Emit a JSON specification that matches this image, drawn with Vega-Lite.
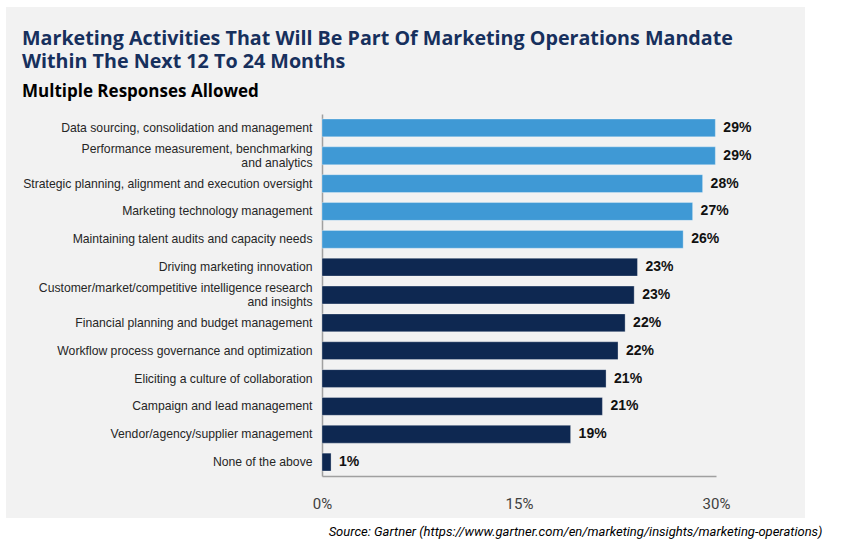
{
  "$schema": "https://vega.github.io/schema/vega-lite/v6.json",
  "width": 799,
  "height": 511,
  "autosize": {"type": "none"},
  "padding": {"left": 6, "top": 7, "right": 51, "bottom": 34},
  "background": "white",
  "view": {"fill": "#F2F2F2", "stroke": null},
  "title": {
    "text": ["Marketing Activities That Will Be Part Of Marketing Operations Mandate", "Within The Next 12 To 24 Months"],
    "subtitle": "Multiple Responses Allowed",
    "anchor": "start",
    "frame": "group",
    "offset": -93,
    "dx": 16,
    "font": "Open Sans",
    "fontSize": 19.7,
    "fontWeight": "bold",
    "color": "#17305D",
    "lineHeight": 23.5,
    "subtitleFont": "Open Sans",
    "subtitleFontSize": 17,
    "subtitleFontWeight": "bold",
    "subtitleColor": "#000000",
    "subtitlePadding": 12
  },
  "data": {
    "values": [
      {"activity": "Data sourcing, consolidation and management", "value": 29.95, "pct": "29%", "group": "top"},
      {"activity": "Performance measurement, benchmarking|and analytics", "value": 29.95, "pct": "29%", "group": "top"},
      {"activity": "Strategic planning, alignment and execution oversight", "value": 28.98, "pct": "28%", "group": "top"},
      {"activity": "Marketing technology management", "value": 28.22, "pct": "27%", "group": "top"},
      {"activity": "Maintaining talent audits and capacity needs", "value": 27.5, "pct": "26%", "group": "top"},
      {"activity": "Driving marketing innovation", "value": 24.02, "pct": "23%", "group": "other"},
      {"activity": "Customer/market/competitive intelligence research|and insights", "value": 23.77, "pct": "23%", "group": "other"},
      {"activity": "Financial planning and budget management", "value": 23.08, "pct": "22%", "group": "other"},
      {"activity": "Workflow process governance and optimization", "value": 22.54, "pct": "22%", "group": "other"},
      {"activity": "Eliciting a culture of collaboration", "value": 21.63, "pct": "21%", "group": "other"},
      {"activity": "Campaign and lead management", "value": 21.35, "pct": "21%", "group": "other"},
      {"activity": "Vendor/agency/supplier management", "value": 18.93, "pct": "19%", "group": "other"},
      {"activity": "None of the above", "value": 0.69, "pct": "1%", "group": "other"}
    ]
  },
  "encoding": {
    "y": {
      "field": "activity",
      "type": "nominal",
      "sort": null,
      "scale": {"range": [107, 469], "paddingInner": 0.36, "paddingOuter": 0.18},
      "axis": {
        "title": null,
        "orient": "left",
        "offset": -316,
        "ticks": false,
        "domainColor": "#A0A0A0",
        "domainWidth": 1.5,
        "labelFont": "Liberation Sans",
        "labelFontSize": 12.2,
        "labelColor": "#262626",
        "labelPadding": 10,
        "labelLimit": 400,
        "labelLineHeight": 14,
        "labelOffset": {"condition": {"test": "indexof(datum.label, '|') >= 0", "value": -7}, "value": 0},
        "labelExpr": "split(datum.label, '|')"
      }
    },
    "x": {
      "field": "value",
      "type": "quantitative",
      "scale": {"domain": [0, 30], "range": [316, 710], "nice": false},
      "axis": {
        "orient": "bottom",
        "offset": -42,
        "values": [0, 15, 30],
        "labelExpr": "datum.value + '%'",
        "labelFlush": false,
        "ticks": false,
        "grid": false,
        "domainColor": "#A0A0A0",
        "domainWidth": 1.5,
        "labelFont": "Roboto",
        "labelFontSize": 15,
        "labelColor": "#404040",
        "labelPadding": 20,
        "title": "Source: Gartner (https://www.gartner.com/en/marketing/insights/marketing-operations)",
        "titleFont": "Roboto",
        "titleFontStyle": "italic",
        "titleFontWeight": "normal",
        "titleFontSize": 13,
        "titleColor": "#000000",
        "titleAnchor": "end",
        "titleAlign": "right",
        "titleBaseline": "alphabetic",
        "titleX": 816,
        "titleY": 59
      }
    }
  },
  "layer": [
    {
      "mark": {"type": "bar", "stroke": "#FFFFFF", "strokeWidth": 0.5, "strokeOpacity": 0.6},
      "encoding": {
        "color": {
          "field": "group",
          "type": "nominal",
          "scale": {"domain": ["top", "other"], "range": ["#3F99D5", "#0E2851"]},
          "legend": null
        }
      }
    },
    {
      "mark": {"type": "text", "align": "left", "baseline": "middle", "dx": 8, "font": "Liberation Sans", "fontSize": 14, "fontWeight": "bold", "color": "#111111"},
      "encoding": {"text": {"field": "pct"}}
    }
  ]
}
